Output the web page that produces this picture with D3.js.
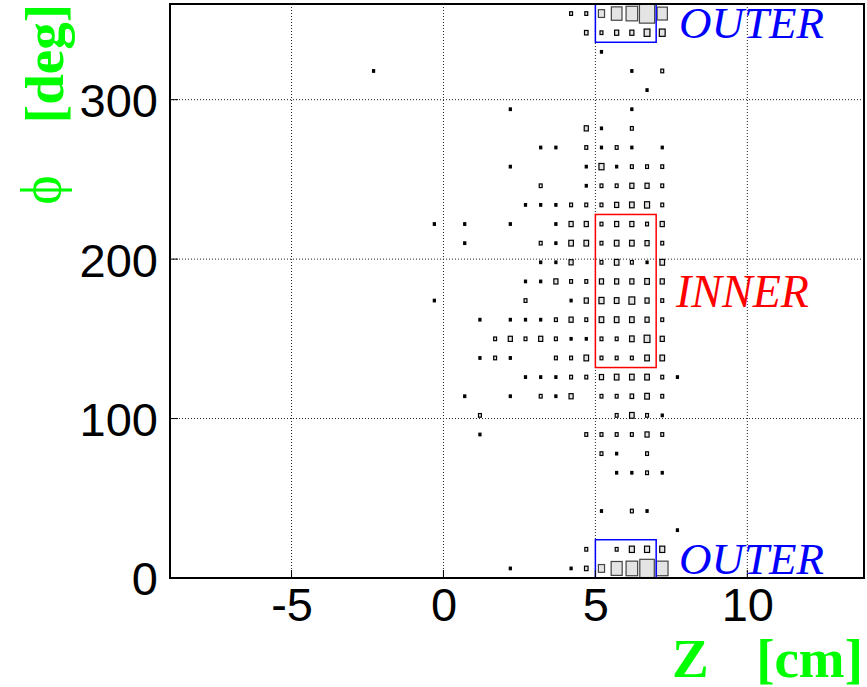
<!DOCTYPE html>
<html>
<head>
<meta charset="utf-8">
<script src="https://cdn.jsdelivr.net/npm/d3@7"></script>
<style>
    body { margin: 0; background: #fff; }
    svg { display: block; }
</style>
</head>
<body>
<div id="chart"></div>
<script>
'use strict';

// bin centres (Z in cm, phi in deg)
var zCenters = [-2.3, -1.8, -1.3, -0.8, -0.3, 0.2, 0.7, 1.2, 1.7, 2.2, 2.7,
                3.2, 3.7, 4.2, 4.7, 5.2, 5.7, 6.2, 6.7, 7.2, 7.7];
var phiCenters = [6, 18, 30, 42, 54, 66, 78, 90, 102, 114, 126, 138, 150, 162, 174,
                  186, 198, 210, 222, 234, 246, 258, 270, 282, 294, 306, 318, 330, 342, 354];

// counts, one row per phi bin, one column per z bin
var counts = [
    [0,0,0,0,0,0,0,0,0,1,0,0,0,1,3,9,29,32,50,32,0],
    [0,0,0,0,0,0,0,0,0,0,0,0,0,0,2,0,2,6,6,6,0],
    [0,0,0,0,0,0,0,0,0,0,0,0,0,0,0,0,0,0,0,0,1],
    [0,0,0,0,0,0,0,0,0,0,0,0,0,0,0,1,0,2,1,0,0],
    [0,0,0,0,0,0,0,0,0,0,0,0,0,0,0,0,0,0,0,0,0],
    [0,0,0,0,0,0,0,0,0,0,0,0,0,0,0,0,1,1,2,1,0],
    [0,0,0,0,0,0,0,0,0,0,0,0,0,0,0,2,1,0,2,0,0],
    [0,0,0,0,0,0,0,1,0,0,0,0,0,0,2,2,2,2,4,2,0],
    [0,0,0,0,0,0,0,2,0,0,0,0,0,0,0,0,2,5,2,1,0],
    [0,0,0,0,0,0,1,0,0,1,0,2,1,4,0,2,2,3,5,2,0],
    [0,0,0,0,0,0,0,0,0,0,1,1,1,2,2,4,5,5,5,2,1],
    [0,0,0,0,0,0,0,1,2,1,0,0,2,2,5,2,2,2,5,5,0],
    [0,0,0,0,0,0,0,0,2,4,2,4,2,1,1,2,2,5,8,4,0],
    [0,0,0,0,0,0,0,1,0,1,1,1,2,4,2,5,5,5,4,2,0],
    [0,0,0,0,1,0,0,0,0,0,2,0,0,1,4,6,5,8,4,2,0],
    [0,0,0,0,0,0,0,0,0,0,1,1,4,2,2,4,4,4,5,4,0],
    [0,0,0,0,0,0,0,0,0,0,0,1,1,4,0,2,5,2,1,5,0],
    [0,0,0,0,0,0,1,0,0,0,0,2,1,5,5,2,5,5,4,2,0],
    [0,0,0,0,1,0,1,0,0,1,0,0,1,4,4,2,4,4,2,4,0],
    [0,0,0,0,0,0,0,0,0,0,1,1,1,2,2,2,4,5,6,2,0],
    [0,0,0,0,0,0,0,0,0,0,0,2,0,0,1,2,2,4,4,2,0],
    [0,0,0,0,0,0,0,0,0,1,0,0,0,0,1,6,1,2,2,2,0],
    [0,0,0,0,0,0,0,0,0,0,0,1,1,0,2,1,2,1,0,1,0],
    [0,0,0,0,0,0,0,0,0,0,0,0,0,0,4,1,0,2,0,0,0],
    [0,0,0,0,0,0,0,0,0,1,0,0,0,0,0,0,0,1,0,0,0],
    [0,0,0,0,0,0,0,0,0,0,0,0,0,0,0,0,0,0,1,0,0],
    [1,0,0,0,0,0,0,0,0,0,0,0,0,0,0,0,0,1,0,2,0],
    [0,0,0,0,0,0,0,0,0,0,0,0,0,0,0,1,0,0,0,0,0],
    [0,0,0,0,0,0,0,0,0,0,0,0,0,0,3,2,4,4,8,8,0],
    [0,0,0,0,0,0,0,0,0,0,0,0,0,2,2,9,27,32,55,25,0]
];

var xTicks = [-5, 0, 5, 10];
var yTicks = [0, 100, 200, 300];

// cut regions: [zMin, zMax, phiMin, phiMax]
var innerBox = [5, 7, 132, 228];
var outerBoxes = [[5, 7, 336, 360], [5, 7, 0, 24]];

var W = 867, H = 687;
var frame = { left: 170, right: 864, top: 4, bottom: 578 };

var svg = d3.select('#chart').append('svg')
    .attr('width', W)
    .attr('height', H);

var x = d3.scaleLinear().domain([-9, 13.84]).range([frame.left, frame.right]);
var y = d3.scaleLinear().domain([0, 360]).range([frame.bottom, frame.top]);

var maxCount = d3.max(counts, function(r) { return d3.max(r); });
var boxScale = d3.scaleSqrt().domain([0, maxCount]).range([0, 1]);
var binW = x(0.5) - x(0);
var binH = y(0) - y(12);

drawGrid();
drawBoxes();
drawCuts();
drawAxes();
drawLabels();

function drawGrid() {
    var g = svg.append('g').attr('class', 'grid');
    g.selectAll('line.gx')
        .data(xTicks)
        .enter().append('line')
        .attr('x1', function(d) { return x(d); })
        .attr('x2', function(d) { return x(d); })
        .attr('y1', frame.top)
        .attr('y2', frame.bottom);
    g.selectAll('line.gy')
        .data(yTicks.filter(function(d) { return d > 0; }))
        .enter().append('line')
        .attr('x1', frame.left)
        .attr('x2', frame.right)
        .attr('y1', function(d) { return y(d); })
        .attr('y2', function(d) { return y(d); });
    g.selectAll('line')
        .attr('stroke', '#222')
        .attr('stroke-width', 1)
        .attr('stroke-dasharray', '1,2');
}

function drawBoxes() {
    var cells = [];
    counts.forEach(function(row, i) {
        row.forEach(function(c, j) {
            if (c > 0) cells.push({ z: zCenters[j], phi: phiCenters[i], n: c });
        });
    });
    svg.append('g').attr('class', 'boxes')
        .selectAll('rect')
        .data(cells)
        .enter().append('rect')
        .attr('x', function(d) { return x(d.z) - binW * boxScale(d.n) / 2; })
        .attr('y', function(d) { return y(d.phi) - binH * boxScale(d.n) / 2; })
        .attr('width', function(d) { return binW * boxScale(d.n); })
        .attr('height', function(d) { return binH * boxScale(d.n); })
        .attr('fill', function(d) { return d.n > 1 ? '#e4e4e4' : '#000'; })
        .attr('stroke', function(d) { return d.n > 8 ? '#444' : '#000'; })
        .attr('stroke-width', 1.2);
}

function drawCuts() {
    var g = svg.append('g').attr('class', 'cuts').attr('fill', 'none').attr('stroke-width', 1.5);
    function rect(b, color) {
        g.append('rect')
            .attr('x', x(b[0]))
            .attr('y', y(b[3]))
            .attr('width', x(b[1]) - x(b[0]))
            .attr('height', y(b[2]) - y(b[3]))
            .attr('stroke', color);
    }
    rect(innerBox, '#ff0000');
    outerBoxes.forEach(function(b) { rect(b, '#0000ff'); });
}

function drawAxes() {
    var xAxis = d3.axisBottom(x).tickValues(xTicks).tickSize(0).tickPadding(10)
        .tickFormat(function(d) { return String(d); });
    var yAxis = d3.axisLeft(y).tickValues(yTicks).tickSize(0).tickPadding(12)
        .tickFormat(function(d) { return String(d); });

    var gx = svg.append('g').attr('transform', 'translate(0,' + frame.bottom + ')').call(xAxis);
    var gy = svg.append('g').attr('transform', 'translate(' + frame.left + ',0)').call(yAxis);
    [gx, gy].forEach(function(g) {
        g.select('.domain').remove();
        g.selectAll('text')
            .attr('fill', '#000')
            .style('font-family', '"Liberation Sans", Arial, sans-serif')
            .style('font-size', '47px');
    });
    gx.selectAll('text').attr('dy', '0.71em');
    gy.selectAll('text').attr('dy', '0.36em');

    // short inner ticks like ROOT
    svg.append('g').selectAll('line')
        .data(xTicks)
        .enter().append('line')
        .attr('x1', function(d) { return x(d); })
        .attr('x2', function(d) { return x(d); })
        .attr('y1', frame.bottom)
        .attr('y2', frame.bottom - 8)
        .attr('stroke', '#000');
    svg.append('g').selectAll('line')
        .data(yTicks)
        .enter().append('line')
        .attr('x1', frame.left)
        .attr('x2', frame.left + 8)
        .attr('y1', function(d) { return y(d); })
        .attr('y2', function(d) { return y(d); })
        .attr('stroke', '#000');

    svg.append('rect')
        .attr('x', frame.left)
        .attr('y', frame.top)
        .attr('width', frame.right - frame.left)
        .attr('height', frame.bottom - frame.top)
        .attr('fill', 'none')
        .attr('stroke', '#000')
        .attr('stroke-width', 2);
}

function drawLabels() {
    var serif = '"Liberation Serif", "Times New Roman", serif';

    svg.append('text')
        .attr('x', 676).attr('y', 307)
        .attr('fill', '#ff0000')
        .style('font-family', serif).style('font-style', 'italic').style('font-size', '46px')
        .text('INNER');
    svg.append('text')
        .attr('x', 679).attr('y', 38)
        .attr('fill', '#0000ff')
        .style('font-family', serif).style('font-style', 'italic').style('font-size', '45px')
        .text('OUTER');
    svg.append('text')
        .attr('x', 679).attr('y', 574)
        .attr('fill', '#0000ff')
        .style('font-family', serif).style('font-style', 'italic').style('font-size', '45px')
        .text('OUTER');

    // axis titles
    svg.append('text')
        .attr('x', 672).attr('y', 677)
        .attr('fill', '#00ff00')
        .style('font-family', serif).style('font-weight', 'bold').style('font-size', '55px')
        .text('Z');
    svg.append('text')
        .attr('x', 863).attr('y', 677)
        .attr('text-anchor', 'end')
        .attr('fill', '#00ff00')
        .style('font-family', serif).style('font-weight', 'bold').style('font-size', '55px')
        .text('[cm]');

    svg.append('text')
        .attr('transform', 'translate(63,4) rotate(-90)')
        .attr('text-anchor', 'end')
        .attr('fill', '#00ff00')
        .style('font-family', serif).style('font-weight', 'bold').style('font-size', '55px')
        .text('[deg]');
    svg.append('text')
        .attr('transform', 'translate(60,190) rotate(-90)')
        .attr('text-anchor', 'middle')
        .attr('fill', '#00ff00')
        .style('font-family', serif).style('font-size', '56px')
        .text('\u03D5');
}
</script>
</body>
</html>
